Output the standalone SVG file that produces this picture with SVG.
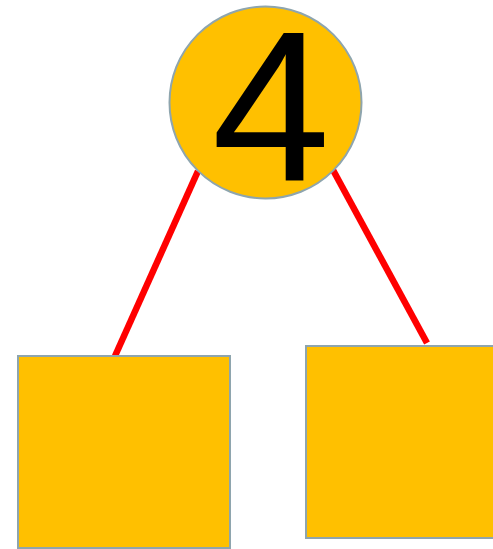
<svg xmlns="http://www.w3.org/2000/svg" width="493" height="549" viewBox="0 0 493 549">
<style>
.n{fill:#FFC000;stroke:#8EA5AE;stroke-width:2}
.c{stroke:#FF0000;stroke-width:6.5;fill:none}
.t{font-family:"Liberation Sans",Arial,sans-serif;font-size:213px;fill:#000}
</style>
<rect width="493" height="549" fill="#fff"/>
<g id="connectors">
<line class="c" x1="198" y1="171" x2="115" y2="356"/>
<line class="c" x1="333" y1="170" x2="427" y2="343"/>
</g>
<g id="root">
<circle class="n" cx="265.5" cy="102.5" r="96"/>
<text class="t" x="271" y="180" text-anchor="middle">4</text>
</g>
<g id="left">
<rect class="n" x="18" y="356" width="212" height="192"/>
</g>
<g id="right">
<rect class="n" x="306" y="346" width="212" height="192"/>
</g>
</svg>
